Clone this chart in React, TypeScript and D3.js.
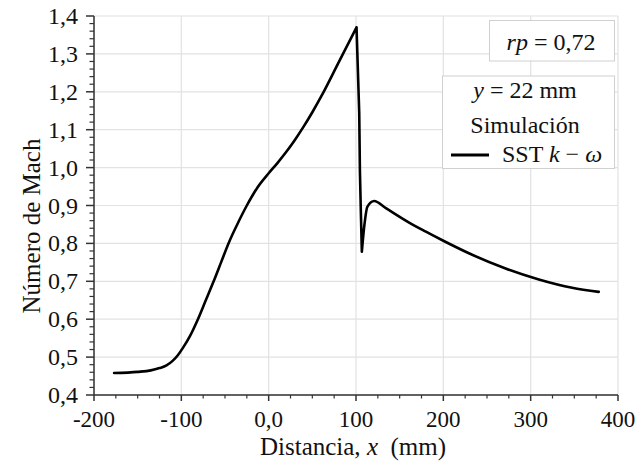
import React from "react";
import * as d3 from "d3";

const xs = [-177, -150, -135, -125, -117, -110, -104, -98, -90, -81, -72, -63, -54.5, -46, -36, -25, -13, 0, 10, 20, 30, 40, 50, 60, 80, 100.6, 103.7, 104.5, 105.6, 106.7, 109.4, 113.1, 120.8, 134.2, 160.8, 180, 200, 233, 271.3, 309.4, 347.5, 378];
const machs = [0.458, 0.461, 0.465, 0.471, 0.478, 0.49, 0.505, 0.525, 0.556, 0.6, 0.65, 0.7, 0.75, 0.8, 0.85, 0.9, 0.947, 0.985, 1.012, 1.041, 1.073, 1.108, 1.146, 1.187, 1.277, 1.37, 1.144, 0.989, 0.879, 0.778, 0.844, 0.897, 0.912, 0.893, 0.855, 0.831, 0.807, 0.77, 0.734, 0.705, 0.683, 0.672];

const xTicks = [-200, -100, 0, 100, 200, 300, 400];
const xTickLabels = ["-200", "-100", "0,0", "100", "200", "300", "400"];
const yTicks = [0.4, 0.5, 0.6, 0.7, 0.8, 0.9, 1.0, 1.1, 1.2, 1.3, 1.4];
const yTickLabels = ["0,4", "0,5", "0,6", "0,7", "0,8", "0,9", "1,0", "1,1", "1,2", "1,3", "1,4"];

const W = 642, H = 463;
const L = 94, R = 618, T = 16, B = 395;
const FONT = "'Liberation Serif', 'Times New Roman', serif";

export default function App() {
  const x = d3.scaleLinear().domain([-200, 400]).range([L, R]);
  const y = d3.scaleLinear().domain([0.4, 1.4]).range([B, T]);
  const pts: [number, number][] = xs.map((v, i) => [v, machs[i]]);
  const peakIdx = d3.maxIndex(machs);
  const dipIdx = peakIdx + d3.minIndex(machs.slice(peakIdx, peakIdx + 8));
  const smooth = d3.line<[number, number]>().x(d => x(d[0])).y(d => y(d[1])).curve(d3.curveMonotoneX);
  const straight = d3.line<[number, number]>().x(d => x(d[0])).y(d => y(d[1]));
  const segs = [
    smooth(pts.slice(0, peakIdx + 1)),
    straight(pts.slice(peakIdx, dipIdx + 1)),
    smooth(pts.slice(dipIdx)),
  ];
  const xMinor = d3.range(-200, 400.1, 25).filter(v => v % 100 !== 0);
  const yMinor = d3.range(0, 51).map(i => 0.4 + i * 0.02).filter((v, i) => i % 5 !== 0);
  const axisColor = "#333";
  const grid = "#e2e2e2";
  return (
    <svg width={W} height={H} style={{ position: "absolute", left: 0, top: 0, background: "#fff" }} fontFamily={FONT}>
      <rect width={W} height={H} fill="#fff" />
      {xTicks.map(t => (
        <line key={"gx" + t} x1={x(t)} x2={x(t)} y1={T} y2={B} stroke={grid} strokeWidth={1.2} />
      ))}
      {yTicks.map(t => (
        <line key={"gy" + t} x1={L} x2={R} y1={y(t)} y2={y(t)} stroke={grid} strokeWidth={1.2} />
      ))}
      <path d={segs.join("")} fill="none" stroke="#000" strokeWidth={2.6} strokeLinejoin="round" strokeLinecap="round" />
      <line x1={L} x2={L} y1={T} y2={B} stroke={axisColor} strokeWidth={1.5} />
      <line x1={L} x2={R} y1={B} y2={B} stroke={axisColor} strokeWidth={1.5} />
      {xTicks.map(t => (
        <line key={"tx" + t} x1={x(t)} x2={x(t)} y1={B} y2={B + 6} stroke={axisColor} strokeWidth={1.5} />
      ))}
      {xMinor.map(t => (
        <line key={"mx" + t} x1={x(t)} x2={x(t)} y1={B} y2={B + 3.5} stroke={axisColor} strokeWidth={1.2} />
      ))}
      {yTicks.map(t => (
        <line key={"ty" + t} x1={L - 8} x2={L} y1={y(t)} y2={y(t)} stroke={axisColor} strokeWidth={1.5} />
      ))}
      {yMinor.map(t => (
        <line key={"my" + t} x1={L - 4.5} x2={L} y1={y(t)} y2={y(t)} stroke={axisColor} strokeWidth={1.2} />
      ))}
      {xTicks.map((t, i) => (
        <text key={"lx" + t} x={x(t)} y={427} fontSize={23} textAnchor="middle" fill="#111">{xTickLabels[i]}</text>
      ))}
      {yTicks.map((t, i) => (
        <text key={"ly" + t} x={78} y={y(t) + 8} fontSize={24} textAnchor="end" fill="#111">{yTickLabels[i]}</text>
      ))}
      <text x={353} y={455} fontSize={25} textAnchor="middle" fill="#111">
        Distancia, <tspan fontStyle="italic">x</tspan>{"\u00a0\u00a0"}(mm)
      </text>
      <text transform="translate(40, 226) rotate(-90)" fontSize={25} textAnchor="middle" fill="#111">
        Número de Mach
      </text>
      <rect x={489.5} y={20.5} width={125} height={40.5} fill="#fff" stroke="#d0d0d0" strokeWidth={1} />
      <text x={551} y={50} fontSize={24} textAnchor="middle" fill="#111">
        <tspan fontStyle="italic">rp</tspan>{" = 0,72"}
      </text>
      <rect x={442.5} y={76} width={172} height={92.5} fill="#fff" stroke="#d0d0d0" strokeWidth={1} />
      <text x={525} y={98} fontSize={24} textAnchor="middle" fill="#111">
        <tspan fontStyle="italic">y</tspan>{" = 22 mm"}
      </text>
      <text x={525} y={133} fontSize={24} textAnchor="middle" fill="#111">Simulación</text>
      <line x1={451} x2={489} y1={155} y2={155} stroke="#000" strokeWidth={3} />
      <text x={502} y={162} fontSize={24} textAnchor="start" fill="#111">
        SST <tspan fontStyle="italic">k</tspan> − <tspan fontStyle="italic">ω</tspan>
      </text>
    </svg>
  );
}
